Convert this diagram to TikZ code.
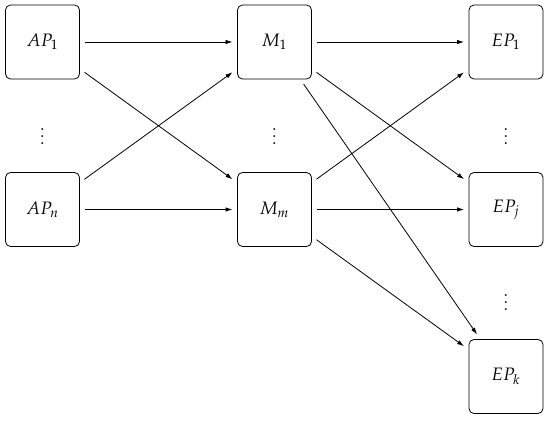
\documentclass[tikz,border=0pt]{standalone}
\usepackage{amsmath, amssymb}
\usepackage{mathpazo}
\usepackage{graphicx}
\usepackage{tikz}
\usetikzlibrary{arrows.meta, positioning}

\newcommand{\biglbl}[1]{\scalebox{1.8}{$#1$}}

\begin{document}
\begin{tikzpicture}[x=1pt, y=-1pt,
        box/.style={draw, rectangle, rounded corners=5pt, minimum width=74pt, minimum height=74pt, line width=0.8pt, outer sep=5pt},
        link/.style={-{Latex[length=7pt, width=4.5pt]}, line width=0.8pt}]
        \useasboundingbox (0,0) rectangle (550,421);
        % Access points, middleware, end points
        \node[box] (ap1) at (42.5,42) {\biglbl{AP_1}};
        \node[box] (apn) at (42.5,209.5) {\biglbl{AP_n}};
        \node[box] (m1) at (274.5,42) {\biglbl{M_1}};
        \node[box] (mm) at (274.5,209.5) {\biglbl{M_m}};
        \node[box] (ep1) at (506,42) {\biglbl{EP_1}};
        \node[box] (epj) at (506,209.5) {\biglbl{EP_j}};
        \node[box] (epk) at (506,376.5) {\biglbl{EP_k}};
        \node (apdots) at (42.5,131) {\biglbl{\vdots}};
        \node (mdots) at (274.5,131) {\biglbl{\vdots}};
        \node (epdotsa) at (506,131) {\biglbl{\vdots}};
        \node (epdotsb) at (506,297) {\biglbl{\vdots}};
        % Connections
        \draw[link] (ap1) -- (m1);
        \draw[link] (ap1) -- (mm);
        \draw[link] (apn) -- (m1);
        \draw[link] (apn) -- (mm);
        \draw[link] (m1) -- (ep1);
        \draw[link] (m1) -- (epj);
        \draw[link] (m1) -- (epk);
        \draw[link] (mm) -- (ep1);
        \draw[link] (mm) -- (epj);
        \draw[link] (mm) -- (epk);
    \end{tikzpicture}
\end{document}
